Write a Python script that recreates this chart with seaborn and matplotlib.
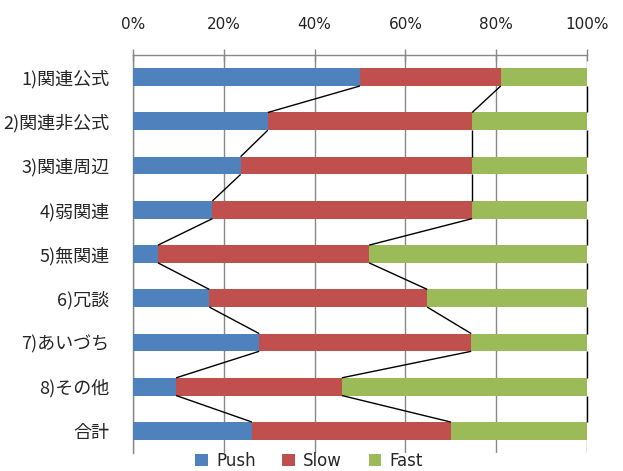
import matplotlib
matplotlib.use("Agg")
import matplotlib.pyplot as plt
import seaborn as sns
import pandas as pd
import numpy as np
from matplotlib.patches import Patch

categories = ["1)関連公式", "2)関連非公式", "3)関連周辺", "4)弱関連", "5)無関連",
              "6)冗談", "7)あいづち", "8)その他", "合計"]
push = [50.0, 29.7, 23.7, 17.5, 5.5, 16.8, 27.8, 9.5, 26.2]
slow = [31.0, 45.0, 51.0, 57.2, 46.5, 48.0, 46.7, 36.5, 43.8]
fast = [19.0, 25.3, 25.3, 25.3, 48.0, 35.2, 25.5, 54.0, 30.0]
series_names = ["Push", "Slow", "Fast"]
colors = ["#4F81BD", "#C0504D", "#9BBB59"]
xticks = [0, 20, 40, 60, 80, 100]

sns.set_style("white")
plt.rcParams['font.family'] = ['Noto Sans CJK JP', 'DejaVu Sans']

df = pd.DataFrame({"cat": categories, "Push": push, "Slow": slow, "Fast": fast})
tot = df["Push"] + df["Slow"] + df["Fast"]
for s in series_names:
    df[s] = df[s] / tot * 100
df["c_push"] = df["Push"]
df["c_slow"] = df["Push"] + df["Slow"]
df["c_fast"] = df["c_slow"] + df["Fast"]

fig = plt.figure(figsize=(6.23, 4.71), dpi=100)
ax = fig.add_axes([133/623, 1-453/471, (587-133)/623, (453-55)/471])

bw = 0.4
for col, c in zip(["c_fast", "c_slow", "c_push"], colors[::-1]):
    sns.barplot(data=df, y="cat", x=col, orient="h", color=c, width=bw,
                saturation=1, linewidth=0, ax=ax, zorder=3)

# series lines
for col in ["c_push", "c_slow", "c_fast"]:
    vals = df[col].values
    for i in range(len(vals) - 1):
        ax.plot([vals[i], vals[i+1]], [i + bw/2, i + 1 - bw/2], color="black",
                lw=1.0, zorder=4, solid_capstyle="butt", clip_on=False)

ax.set_xlim(0, 100)
ax.set_ylim(len(categories) - 0.5, -0.5)
ax.xaxis.tick_top()
ax.set_xticks(xticks)
ax.set_xticklabels([f"{v}%" for v in xticks], fontsize=11, family="DejaVu Sans",
                   color="#222222")
ax.tick_params(axis="x", direction="inout", length=9, width=1, color="#888888", pad=12)
ax.set_yticks(range(len(categories)))
ax.set_yticklabels(categories, fontsize=13)
ax.set_yticks(np.arange(-0.5, len(categories), 1), minor=True)
ax.tick_params(axis="y", which="major", length=0, pad=17)
ax.tick_params(axis="y", which="minor", direction="out", length=7, width=1, color="#888888")
ax.set_xlabel("")
ax.set_ylabel("")
ax.grid(axis="x", color="#888888", lw=1, zorder=0)
ax.grid(axis="y", visible=False)
for s in ["right", "bottom"]:
    ax.spines[s].set_visible(False)
for s in ["top", "left"]:
    ax.spines[s].set_color("#888888")
    ax.spines[s].set_linewidth(1)

handles = [Patch(facecolor=c, edgecolor="none", label=n) for c, n in zip(colors, series_names)]
fig.legend(handles=handles, loc="center", bbox_to_anchor=(309/623, 1-461/471), ncol=3,
           frameon=False, handlelength=0.75, handleheight=0.75,
           handletextpad=0.5, columnspacing=1.6, prop={"family": "DejaVu Sans", "size": 12})

fig.savefig("out.png", dpi=100)
